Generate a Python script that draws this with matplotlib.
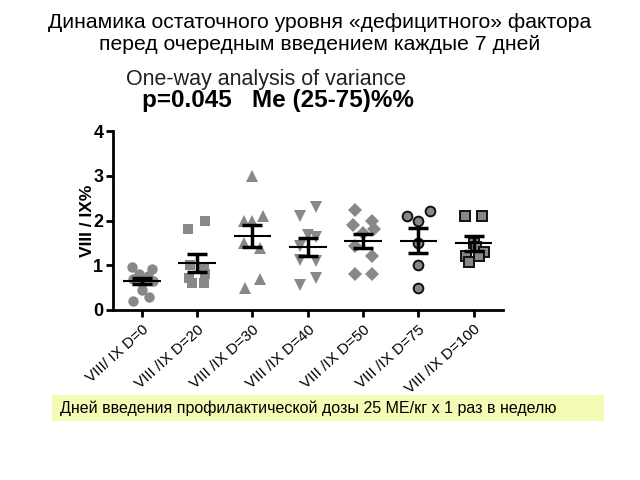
import matplotlib.pyplot as plt
from matplotlib.patches import Rectangle

plt.rcParams['font.family'] = ['Liberation Sans', 'DejaVu Sans']

categories = ['VIII/ IX D=0', 'VIII /IX D=20', 'VIII /IX D=30', 'VIII /IX D=40',
              'VIII /IX D=50', 'VIII /IX D=75', 'VIII /IX D=100']

# individual values per group
values = [
    [0.97, 0.92, 0.8, 0.75, 0.7, 0.65, 0.6, 0.45, 0.3, 0.2],
    [2.0, 1.8, 1.0, 0.95, 0.8, 0.72, 0.6, 0.6],
    [3.0, 2.1, 2.0, 2.0, 1.5, 1.38, 0.7, 0.5],
    [2.3, 2.1, 1.68, 1.63, 1.42, 1.12, 1.1, 0.72, 0.55],
    [2.23, 2.0, 1.9, 1.8, 1.72, 1.42, 1.21, 0.8, 0.8],
    [2.22, 2.1, 2.0, 1.5, 1.0, 0.5],
    [2.1, 2.1, 1.5, 1.4, 1.3, 1.21, 1.21, 1.08],
]
# horizontal scatter spread (category units)
spread = [
    [-0.18, 0.18, -0.05, 0.12, -0.15, 0.2, 0.0, 0.0, 0.13, -0.15],
    [0.15, -0.17, -0.12, 0.12, 0.15, -0.15, -0.1, 0.12],
    [0.0, 0.19, -0.16, 0.0, -0.15, 0.14, 0.14, -0.13],
    [0.15, -0.14, 0.0, 0.15, -0.14, -0.14, 0.15, 0.15, -0.14],
    [-0.14, 0.16, -0.18, 0.19, 0.0, -0.14, 0.16, -0.14, 0.16],
    [0.21, -0.21, 0.0, 0.0, 0.0, 0.0],
    [-0.15, 0.15, 0.0, 0.05, 0.18, -0.13, 0.09, -0.09],
]
median = [0.64, 1.05, 1.66, 1.4, 1.55, 1.55, 1.5]
q25 = [0.58, 0.86, 1.4, 1.2, 1.38, 1.27, 1.32]
q75 = [0.72, 1.25, 1.9, 1.6, 1.7, 1.83, 1.66]

markers = ['o', 's', '^', 'v', 'D', 'o', 's']
sizes = [7.5, 7, 8, 8, 7, 7, 6.5]
edges = ['#888888'] * 5 + ['#111111', '#111111']

fig = plt.figure(figsize=(6.4, 4.8), dpi=100)
ax = fig.add_axes([113 / 640, 1 - 310 / 480, 390 / 640, 179 / 480])

for i, vals in enumerate(values):
    xs = [i + d for d in spread[i]]
    ax.plot(xs, vals, linestyle='none', marker=markers[i], ms=sizes[i],
            mfc='#888888', mec=edges[i], mew=1.4 if i >= 5 else 0, zorder=2)

xpos = list(range(len(categories)))
ax.hlines(median, [x - 0.34 for x in xpos], [x + 0.34 for x in xpos],
          colors='black', lw=1.5, zorder=3)
ax.errorbar(xpos, median,
            yerr=[[m - l for m, l in zip(median, q25)], [h - m for m, h in zip(median, q75)]],
            fmt='none', ecolor='black', elinewidth=2.5, capsize=7, capthick=2.5, zorder=3)

ax.set_xlim(-0.52, 6.53)
ax.set_ylim(0, 4)
ax.set_yticks([0, 1, 2, 3, 4])
ax.set_xticks(xpos)
ax.set_xticklabels(categories, rotation=42, ha='right', rotation_mode='anchor',
                   fontsize=11)
for lab in ax.get_yticklabels():
    lab.set_fontweight('bold')
    lab.set_fontsize(13)
ax.tick_params(width=2, length=5, direction='out', pad=2)
ax.tick_params(axis='x', pad=4)
for s in ['top', 'right']:
    ax.spines[s].set_visible(False)
for s in ['left', 'bottom']:
    ax.spines[s].set_linewidth(2)
ax.set_ylabel('VIII / IX%', fontsize=12.5, fontweight='bold', labelpad=-1)

fig.text(0.5, 1 - 22 / 480, 'Динамика остаточного уровня «дефицитного» фактора',
         ha='center', va='center', fontsize=15.2)
fig.text(0.5, 1 - 45 / 480, 'перед очередным введением каждые 7 дней',
         ha='center', va='center', fontsize=15.2)
fig.text(266 / 640, 1 - 80 / 480, 'One-way analysis of variance',
         ha='center', va='center', fontsize=15.5, color='#222222')
fig.text(278 / 640, 1 - 101 / 480, 'p=0.045   Me (25-75)%%',
         ha='center', va='center', fontsize=17.5, fontweight='bold')

fig.patches.append(Rectangle((52 / 640, 1 - 421 / 480), 552 / 640, 26 / 480,
                             transform=fig.transFigure, facecolor='#f4fbb4',
                             edgecolor='none', zorder=0))
fig.text(60 / 640, 1 - 408 / 480,
         'Дней введения профилактической дозы 25 МЕ/кг х 1 раз в неделю',
         ha='left', va='center', fontsize=11.5)

fig.savefig('out.png', dpi=100)
